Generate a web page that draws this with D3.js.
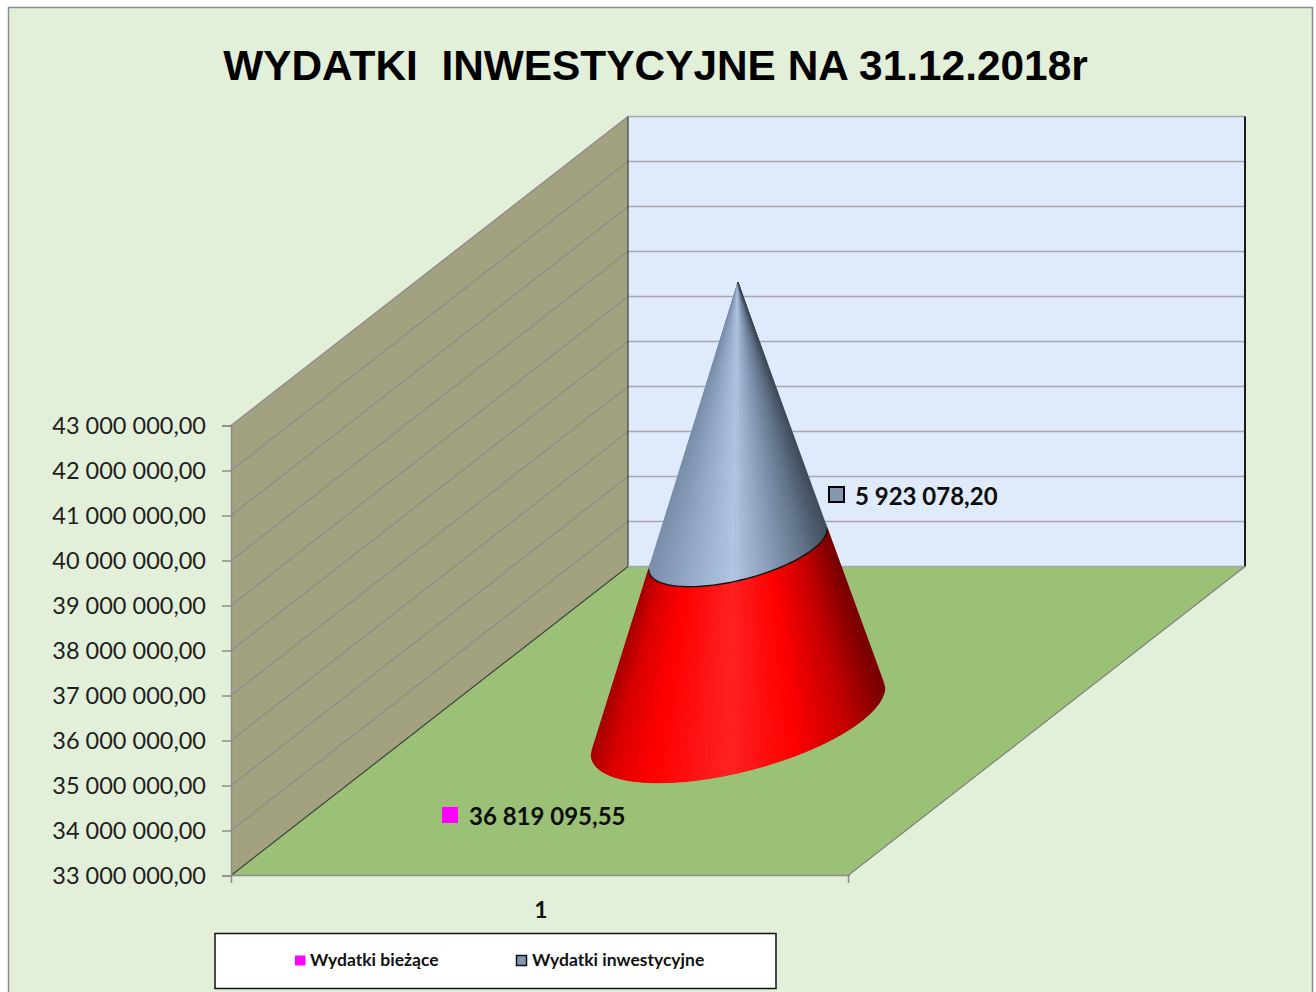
<!DOCTYPE html>
<html lang="pl">
<head>
	<meta charset="UTF-8">
	<title>Wydatki inwestycyjne</title>
	<style>
		html, body { margin: 0; padding: 0; background: #fff; overflow: hidden; }
		svg { display: block; }
		text { white-space: pre; }
	</style>
</head>
<body>
	<svg id="container" width="1316" height="992"></svg>
<script src="https://cdn.jsdelivr.net/npm/d3@7"></script>
<script>
	const chartTitle = "WYDATKI  INWESTYCYJNE NA 31.12.2018r";
	const categories = ["1"];
	const seriesNames = ["Wydatki bieżące", "Wydatki inwestycyjne"];
	const seriesValues = [36819095.55, 5923078.20];
	const seriesLabels = ["36 819 095,55", "5 923 078,20"];
	const seriesKeyColors = ["#ff00ff", "#8497b0"];
	const yTicks = [33000000, 34000000, 35000000, 36000000, 37000000, 38000000,
		39000000, 40000000, 41000000, 42000000, 43000000];

	const svg = d3.select("#container");
	const fmt = d3.formatLocale({ decimal: ",", thousands: " ", grouping: [3], currency: ["", ""] }).format(",.2f");

	// scales: y for value, x for the front edge, depth shifts a point towards the back wall
	const y = d3.scaleLinear().domain([33000000, 43000000]).range([875.5, 425.5]);
	const x = d3.scaleBand().domain(categories).range([231, 848]);
	const depthX = d3.scaleLinear().domain([0, 1]).range([0, 397]);
	const depthY = d3.scaleLinear().domain([0, 1]).range([0, -309]);
	const unitX = d3.scaleLinear().domain([0, 1]).range(x.range());

	const yMin = y.domain()[0], yMax = y.domain()[1];
	const project = (fx, fz, v) => [unitX(fx) + depthX(fz), y(v) + depthY(fz)];
	const line = d3.line();
	const closed = d3.line().curve(d3.curveLinearClosed);

	// frame
	svg.append("rect").attr("x", 8.5).attr("y", 7.5).attr("width", 1304).attr("height", 1000)
		.attr("fill", "#e2efd9").attr("stroke", "#8c8c8c").attr("stroke-width", 1.5);

	svg.append("text").attr("x", 655.5).attr("y", 80)
		.attr("text-anchor", "middle")
		.attr("font-family", "Liberation Sans").attr("font-weight", "bold").attr("font-size", 42.4)
		.attr("fill", "#000").text(chartTitle);

	// walls and floor
	svg.append("path").attr("fill", "#dfeafa")
		.attr("d", closed([project(0, 1, yMin), project(1, 1, yMin), project(1, 1, yMax), project(0, 1, yMax)]));
	svg.append("path").attr("fill", "#a3a280")
		.attr("d", closed([project(0, 0, yMin), project(0, 1, yMin), project(0, 1, yMax), project(0, 0, yMax)]));
	svg.append("path").attr("fill", "#9bc176")
		.attr("d", closed([project(0, 0, yMin), project(1, 0, yMin), project(1, 1, yMin), project(0, 1, yMin)]));

	// gridlines on both walls
	svg.append("g").selectAll("path").data(yTicks.slice(1)).join("path")
		.attr("fill", "none").attr("stroke", "#a6a8ab").attr("stroke-width", 1.6)
		.attr("d", d => line([project(0, 1, d), project(1, 1, d)]));
	svg.append("g").selectAll("path").data(yTicks.slice(1)).join("path")
		.attr("fill", "none").attr("stroke", "#8d8d8d").attr("stroke-width", 1.4)
		.attr("d", d => line([project(0, 0, d), project(0, 1, d)]));

	// wall edges
	svg.append("path").attr("fill", "none").attr("stroke", "#3f3f3f").attr("stroke-width", 1.2)
		.attr("d", line([project(0, 1, yMax), project(0, 1, yMin), project(0, 0, yMin)]));
	svg.append("path").attr("fill", "none").attr("stroke", "#1c1c1c").attr("stroke-width", 2)
		.attr("d", line([project(1, 1, yMax), project(1, 1, yMin)]));
	svg.append("path").attr("fill", "none").attr("stroke", "#a6a8ab").attr("stroke-width", 1.6)
		.attr("d", line([project(0, 1, yMin), project(1, 1, yMin)]));
	svg.append("path").attr("fill", "none").attr("stroke", "#7f7f7f").attr("stroke-width", 1.2)
		.attr("d", line([project(1, 0, yMin), project(1, 1, yMin)]));

	// y axis
	const yAxis = svg.append("g").attr("transform", "translate(231,0)")
		.call(d3.axisLeft(y).tickValues(yTicks).tickSize(9).tickPadding(16).tickFormat(fmt));
	yAxis.selectAll("path, line").attr("stroke", "#8c8c8c").attr("stroke-width", 1.5);
	yAxis.selectAll("text").attr("font-family", "Lato").attr("font-size", 23.5).attr("fill", "#1e1e1e")
		.attr("dy", "0.35em");

	// x axis, label in the middle of the band and ticks on its edges
	const xAxis = svg.append("g").attr("transform", "translate(1.5,875)")
		.call(d3.axisBottom(x).tickSize(0).tickPadding(27));
	xAxis.select("path").attr("stroke", "#8c8c8c").attr("stroke-width", 1.5);
	xAxis.selectAll("text").attr("font-family", "Lato").attr("font-weight", "bold")
		.attr("font-size", 23).attr("fill", "#111");
	xAxis.selectAll("line.edge").data(x.range()).join("line").attr("class", "edge")
		.attr("x1", d => d - 1).attr("x2", d => d - 1).attr("y1", 0).attr("y2", 8)
		.attr("stroke", "#8c8c8c").attr("stroke-width", 1.5);

	// cone, stacked from the floor; the ring narrows towards the tip
	const coneR = 0.2;
	const stackTop = seriesValues[0] + seriesValues[1];
	const splitV = seriesValues[0];
	const apex = project(0.5, 0.5, stackTop);
	const radiusAt = v => coneR * (stackTop - v) / (stackTop - yMin);
	const ringPoint = (v, t) => project(0.5 + radiusAt(v) * Math.cos(t), 0.5 + radiusAt(v) * Math.sin(t), v);
	const ring = v => d3.range(0, 360, 2).map(a => ringPoint(v, a * Math.PI / 180));

	// front of the ring runs between the two sideways extremes
	const t0 = Math.atan2(depthX(1), unitX(1) - unitX(0));
	const frontT = d3.range(0, 91).map(i => t0 + Math.PI + i * Math.PI / 90);
	const segs = d3.pairs(frontT);

	const redShade = d3.scaleLinear()
		.domain([0, 0.06, 0.2, 0.47, 0.7, 0.88, 1])
		.range(["#a80000", "#d80000", "#ff0000", "#ff2222", "#ff0000", "#c00000", "#780000"]);
	const blueShade = d3.scaleLinear()
		.domain([0, 0.2, 0.47, 0.7, 0.88, 1])
		.range(["#7c90ab", "#93a8c6", "#b3c7e2", "#8599b4", "#5f7186", "#3f4c5a"]);
	const fracOf = t => {
		const p = ringPoint(splitV, t);
		const l = ringPoint(splitV, frontT[0]), r = ringPoint(splitV, frontT[90]);
		return (p[0] - l[0]) / (r[0] - l[0]);
	};

	svg.append("path").attr("fill", "#a00000")
		.attr("d", closed(d3.polygonHull(ring(yMin).concat(ring(splitV)))));
	svg.append("g").selectAll("path").data(segs).join("path")
		.attr("d", d => closed([ringPoint(splitV, d[0]), ringPoint(yMin, d[0]), ringPoint(yMin, d[1]), ringPoint(splitV, d[1])]))
		.attr("fill", d => redShade(fracOf((d[0] + d[1]) / 2)))
		.attr("stroke", d => redShade(fracOf((d[0] + d[1]) / 2))).attr("stroke-width", 0.7);

	svg.append("path").attr("fill", "#7c90ab")
		.attr("d", closed(d3.polygonHull(ring(splitV).concat([apex]))));
	svg.append("g").selectAll("path").data(segs).join("path")
		.attr("d", d => closed([apex, ringPoint(splitV, d[0]), ringPoint(splitV, d[1])]))
		.attr("fill", d => blueShade(fracOf((d[0] + d[1]) / 2)))
		.attr("stroke", d => blueShade(fracOf((d[0] + d[1]) / 2))).attr("stroke-width", 0.4);
	svg.append("path").attr("fill", "none").attr("stroke", "#111").attr("stroke-width", 1.4)
		.attr("d", line(frontT.map(t => ringPoint(splitV, t))));

	// data labels
	const labelBoxes = [
		{ sx: 442, sy: 807, tx: 469, ty: 825, size: 16 },
		{ sx: 829, sy: 487, tx: 855, ty: 505, size: 15 }
	];
	svg.append("g").selectAll("rect").data(seriesLabels).join("rect")
		.attr("x", (d, i) => labelBoxes[i].sx).attr("y", (d, i) => labelBoxes[i].sy)
		.attr("width", (d, i) => labelBoxes[i].size).attr("height", (d, i) => labelBoxes[i].size)
		.attr("fill", (d, i) => seriesKeyColors[i])
		.attr("stroke", (d, i) => i ? "#000" : "none").attr("stroke-width", 2);
	svg.append("g").selectAll("text").data(seriesLabels).join("text")
		.attr("x", (d, i) => labelBoxes[i].tx).attr("y", (d, i) => labelBoxes[i].ty)
		.attr("font-family", "Lato").attr("font-weight", "bold").attr("font-size", 24)
		.attr("fill", "#0d0d0d").text(d => d);

	// legend
	svg.append("rect").attr("x", 215).attr("y", 933.5).attr("width", 561).attr("height", 55)
		.attr("fill", "#fff").attr("stroke", "#111").attr("stroke-width", 1.5);
	const keyX = [295, 516.5], keyTextX = [310, 532];
	svg.append("g").selectAll("rect").data(seriesNames).join("rect")
		.attr("x", (d, i) => keyX[i]).attr("y", 955.5)
		.attr("width", (d, i) => i ? 10 : 10.5).attr("height", 10)
		.attr("fill", (d, i) => seriesKeyColors[i])
		.attr("stroke", (d, i) => i ? "#111" : "none").attr("stroke-width", 1.5);
	svg.append("g").selectAll("text").data(seriesNames).join("text")
		.attr("x", (d, i) => keyTextX[i]).attr("y", 966)
		.attr("font-family", "Lato").attr("font-weight", "bold").attr("font-size", 17.5)
		.attr("fill", "#111").text(d => d);
</script>
</body>
</html>
